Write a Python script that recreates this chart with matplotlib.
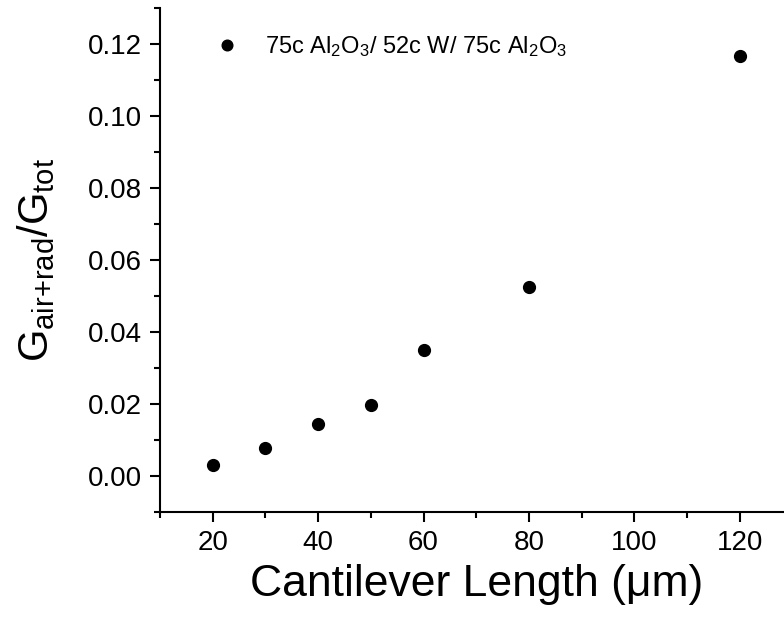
import matplotlib
matplotlib.use("Agg")
import matplotlib.pyplot as plt
from matplotlib.ticker import MultipleLocator

plt.rcParams['font.family'] = ['Liberation Sans', 'DejaVu Sans']
plt.rcParams['mathtext.fontset'] = 'custom'
plt.rcParams['mathtext.rm'] = 'Liberation Sans'
plt.rcParams['mathtext.it'] = 'Liberation Sans'

length = [20, 30, 40, 50, 60, 80, 120]
ratio = [0.0030, 0.0078, 0.0145, 0.0198, 0.0350, 0.0526, 0.1167]
series_label = r"75c Al$_2$O$_3$/ 52c W/ 75c Al$_2$O$_3$"

fig = plt.figure(figsize=(7.84, 6.33), dpi=100)
ax = fig.add_axes([0.204, 0.191, 0.807, 0.796])

ax.plot(length, ratio, 'o', color='black', ms=8.5, label=series_label)

ax.set_xlim(10, 130)
ax.set_ylim(-0.01, 0.13)
ax.xaxis.set_major_locator(MultipleLocator(20))
ax.xaxis.set_minor_locator(MultipleLocator(10))
ax.yaxis.set_major_locator(MultipleLocator(0.02))
ax.yaxis.set_minor_locator(MultipleLocator(0.01))
ax.yaxis.set_major_formatter(plt.FormatStrFormatter('%.2f'))

for s in ['top', 'right']:
    ax.spines[s].set_visible(False)
for s in ['left', 'bottom']:
    ax.spines[s].set_linewidth(1.5)
ax.tick_params(which='major', direction='out', length=7, width=1.5, labelsize=20, pad=6)
ax.tick_params(which='minor', direction='out', length=4, width=1.5)

ax.set_xlabel(u"Cantilever Length (\u03bcm)", fontsize=32, labelpad=6)
ax.set_ylabel(r"G$_{\mathrm{air{+}rad}}$/G$_{\mathrm{tot}}$", fontsize=30, labelpad=22)

ax.legend(loc='upper left', bbox_to_anchor=(0.035, 0.99), frameon=False,
          fontsize=17, handletextpad=0.6, markerscale=0.9)

fig.savefig("out.png", dpi=100)
